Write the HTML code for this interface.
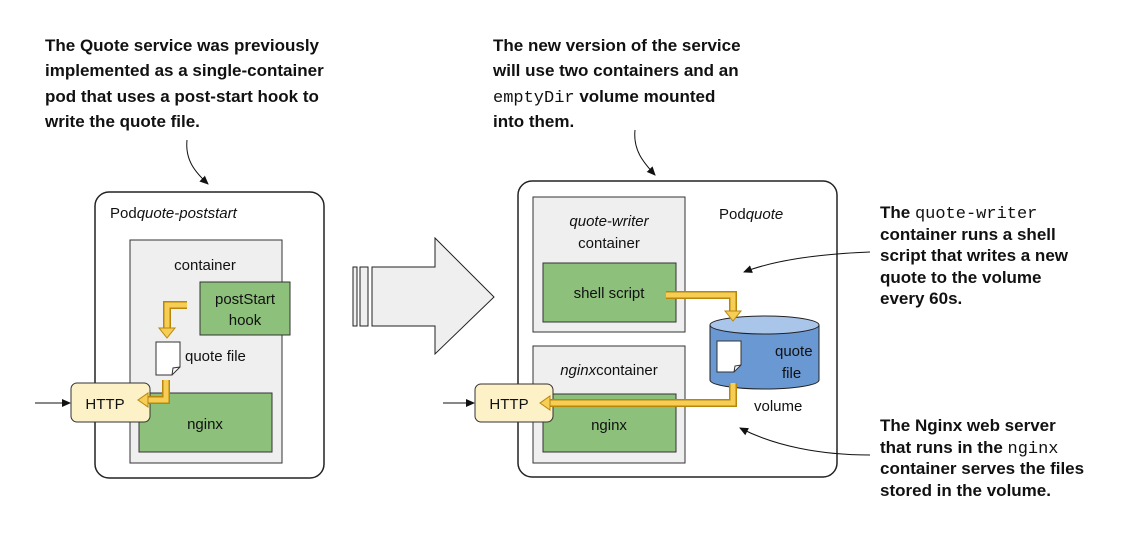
<!DOCTYPE html>
<html><head><meta charset="utf-8"><style>
body{margin:0;background:#fff}
svg{display:block}
.t{font-family:"Liberation Sans",sans-serif;font-weight:bold;font-size:17px;fill:#111}
.m{font-family:"Liberation Mono",monospace;font-weight:normal}
.d{font-family:"Liberation Sans",sans-serif;font-size:15px;fill:#111}
</style></head><body>
<svg width="1136" height="535" viewBox="0 0 1136 535" xmlns="http://www.w3.org/2000/svg">
<defs>
<marker id="ah" markerWidth="10" markerHeight="10" refX="8" refY="5" orient="auto" markerUnits="userSpaceOnUse"><path d="M0,1 L9,5 L0,9 z" fill="#111"/></marker>
</defs>
<!-- top texts -->
<text class="t" x="45" y="51">The Quote service was previously</text>
<text class="t" x="45" y="76">implemented as a single-container</text>
<text class="t" x="45" y="102">pod that uses a post-start hook to</text>
<text class="t" x="45" y="127">write the quote file.</text>
<text class="t" x="493" y="51">The new version of the service</text>
<text class="t" x="493" y="76">will use two containers and an</text>
<text class="t" x="493" y="102"><tspan class="m">emptyDir</tspan> volume mounted</text>
<text class="t" x="493" y="127">into them.</text>
<!-- right texts -->
<text class="t" x="880" y="218">The <tspan class="m">quote-writer</tspan></text>
<text class="t" x="880" y="240">container runs a shell</text>
<text class="t" x="880" y="261">script that writes a new</text>
<text class="t" x="880" y="283">quote to the volume</text>
<text class="t" x="880" y="304">every 60s.</text>
<text class="t" x="880" y="431">The Nginx web server</text>
<text class="t" x="880" y="453">that runs in the <tspan class="m">nginx</tspan></text>
<text class="t" x="880" y="474">container serves the files</text>
<text class="t" x="880" y="496">stored in the volume.</text>
<path d="M187,140 C185,160 195,172 208,184" fill="none" stroke="#111" stroke-width="1" marker-end="url(#ah)"/>
<path d="M635,130 C633,150 643,162 655,175" fill="none" stroke="#111" stroke-width="1" marker-end="url(#ah)"/>

<!-- LEFT POD -->
<rect x="95" y="192" width="229" height="286" rx="14" fill="#fff" stroke="#222" stroke-width="1.5"/>
<text class="d" x="110" y="218">Pod<tspan font-style="italic">quote-poststart</tspan></text>
<rect x="130" y="240" width="152" height="223" fill="#efefef" stroke="#333"/>
<text class="d" x="205" y="270" text-anchor="middle">container</text>
<rect x="200" y="282" width="90" height="53" fill="#8dc07a" stroke="#333"/>
<text class="d" x="245" y="304" text-anchor="middle">postStart</text>
<text class="d" x="245" y="325" text-anchor="middle">hook</text>
<path d="M187,305 L167,305 L167,330" fill="none" stroke="#b8860b" stroke-width="8"/>
<path d="M187,305 L167,305 L167,330" fill="none" stroke="#f6cd55" stroke-width="5"/>
<path d="M159,328 L175,328 L167,338 z" fill="#f6cd55" stroke="#b8860b"/>
<path d="M156,342 L180,342 L180,367 L172,375 L156,375 z" fill="#fff" stroke="#333"/>
<path d="M172,375 L173,368 L180,367" fill="none" stroke="#333"/>
<text class="d" x="185" y="361">quote file</text>
<rect x="139" y="393" width="133" height="59" fill="#8dc07a" stroke="#333"/>
<text class="d" x="205" y="429" text-anchor="middle">nginx</text>
<rect x="71" y="383" width="79" height="39" rx="6" fill="#fdf1c7" stroke="#333"/>
<text class="d" x="105" y="409" text-anchor="middle" font-size="16">HTTP</text>
<path d="M166,380 L166,400 L146,400" fill="none" stroke="#b8860b" stroke-width="8"/>
<path d="M166,380 L166,400 L146,400" fill="none" stroke="#f6cd55" stroke-width="5"/>
<path d="M148,393 L148,407 L138,400 z" fill="#f6cd55" stroke="#b8860b"/>
<line x1="35" y1="403" x2="70" y2="403" stroke="#111" marker-end="url(#ah)"/>

<!-- BIG ARROW -->
<rect x="353" y="267" width="4" height="59" fill="#efefef" stroke="#222"/>
<rect x="360" y="267" width="8" height="59" fill="#efefef" stroke="#222"/>
<path d="M372,267 L435,267 L435,238 L494,297 L435,354 L435,326 L372,326 z" fill="#efefef" stroke="#222"/>

<!-- RIGHT POD -->
<rect x="518" y="181" width="319" height="296" rx="14" fill="#fff" stroke="#222" stroke-width="1.5"/>
<text class="d" x="719" y="219">Pod<tspan font-style="italic">quote</tspan></text>
<rect x="533" y="197" width="152" height="135" fill="#efefef" stroke="#333"/>
<text class="d" x="609" y="226" text-anchor="middle" font-style="italic">quote-writer</text>
<text class="d" x="609" y="248" text-anchor="middle">container</text>
<rect x="543" y="263" width="133" height="59" fill="#8dc07a" stroke="#333"/>
<text class="d" x="609" y="298" text-anchor="middle">shell script</text>
<rect x="533" y="346" width="152" height="117" fill="#efefef" stroke="#333"/>
<text class="d" x="609" y="375" text-anchor="middle"><tspan font-style="italic">nginx</tspan>container</text>
<rect x="543" y="394" width="133" height="58" fill="#8dc07a" stroke="#333"/>
<text class="d" x="609" y="430" text-anchor="middle">nginx</text>
<!-- cylinder -->
<path d="M710,325 L710,380 A54.5,9 0 0 0 819,380 L819,325" fill="#6a98d2" stroke="#222"/>
<ellipse cx="764.5" cy="325" rx="54.5" ry="9" fill="#a9c5ea" stroke="#222"/>
<path d="M717,341 L741,341 L741,365 L734,372 L717,372 z" fill="#fff" stroke="#333"/>
<path d="M734,372 L735,366 L741,365" fill="none" stroke="#333"/>
<text class="d" x="775" y="356" font-size="16">quote</text>
<text class="d" x="782" y="378" font-size="16">file</text>
<text class="d" x="754" y="411">volume</text>
<!-- yellow arrows right -->
<path d="M666,295 L733,295 L733,312" fill="none" stroke="#b8860b" stroke-width="8"/>
<path d="M666,295 L733,295 L733,312" fill="none" stroke="#f6cd55" stroke-width="5"/>
<path d="M725,311 L741,311 L733,321 z" fill="#f6cd55" stroke="#b8860b"/>
<rect x="475" y="384" width="78" height="38" rx="6" fill="#fdf1c7" stroke="#333"/>
<path d="M733,383 L733,403 L548,403" fill="none" stroke="#b8860b" stroke-width="8"/>
<path d="M733,383 L733,403 L548,403" fill="none" stroke="#f6cd55" stroke-width="5"/>
<path d="M550,396 L550,410 L540,403 z" fill="#f6cd55" stroke="#b8860b"/>
<text class="d" x="509" y="409" text-anchor="middle" font-size="16">HTTP</text>
<line x1="443" y1="403" x2="474" y2="403" stroke="#111" marker-end="url(#ah)"/>

<!-- annotation arrows (on top) -->
<path d="M870,252 C820,254 775,260 744,272" fill="none" stroke="#111" stroke-width="1" marker-end="url(#ah)"/>
<path d="M870,455 C820,455 775,446 740,428" fill="none" stroke="#111" stroke-width="1" marker-end="url(#ah)"/>
</svg>
</body></html>
